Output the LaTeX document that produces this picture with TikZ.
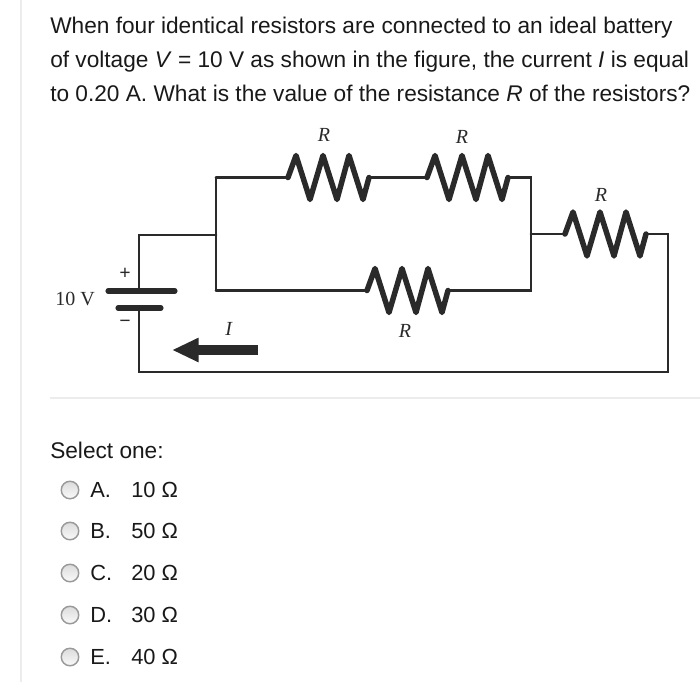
\documentclass[tikz,border=0pt]{standalone}
\usepackage{fontspec}
\setmainfont{Liberation Sans}
\newfontfamily\labelfont{Liberation Serif}
\usetikzlibrary{positioning,calc,arrows.meta,shadings}
\definecolor{ink}{HTML}{2A2A2A}
\definecolor{rule}{HTML}{ECECEC}
\tikzset{
    resistor/.pic={
        \coordinate (-in) at (0,0);
        \coordinate (-out) at (81,0);
        \draw[zig] (-in) -- (8,-22) -- (22,22) -- (35,-22) -- (49,22) -- (61,-22) -- (75,22) -- (-out);
    }
}
\begin{document}
\begin{tikzpicture}[
    x=0.75pt, y=-0.75pt,
    wire/.style={draw=ink, line width=2.1pt, line cap=round, line join=miter},
    zig/.style={draw=ink, line width=4.1pt, line join=round, line cap=round},
    plate/.style={draw=ink, line width=3.8pt, line cap=round},
    qtext/.style={anchor=base west, inner sep=0pt, font=\fontsize{17}{19}\selectfont, text=black!90},
    circuitlabel/.style={inner sep=0pt, font=\labelfont\fontsize{15}{17}\selectfont, text=ink},
    radio/.style={circle, draw=black!40, line width=1.1pt, minimum size=17.5*0.75pt, inner sep=0pt, top color=black!14, bottom color=black!2},
    choice/.style={qtext, font=\fontsize{16.4}{19}\selectfont},
    hairline/.style={draw=rule, line width=1.1pt}
]
\useasboundingbox (0,0) rectangle (700,682);
% Question text
\node[qtext] (line1) at (50,33) {When four identical resistors are connected to an ideal battery};
\node[qtext] (line2) at (50,67) {of voltage \textit{V} = 10 V as shown in the figure, the current \textit{I} is equal};
\node[qtext] (line3) at (50,101) {to 0.20 A. What is the value of the resistance \textit{R} of the resistors?};
% Junctions and resistors
\coordinate (topleft) at (216,177.5);
\coordinate (midleft) at (216,235);
\coordinate (botleft) at (216,290.5);
\coordinate (topright) at (531,177.5);
\coordinate (midright) at (531,234);
\coordinate (botright) at (531,290.5);
\coordinate (corner) at (668,372);
\coordinate (batcorner) at (139,372);
\pic (r1) at (288,177.5) {resistor};
\pic (r2) at (427,177.5) {resistor};
\pic (r3) at (367,290.5) {resistor};
\pic (r4) at (565,234) {resistor};
% Battery
\coordinate (plus) at (139,291);
\coordinate (minus) at (139,308);
\draw[plate] (108,291) -- (175,291);
\draw[plate] (118,308) -- (161,308);
% Wires
\draw[wire] (plus) |- (midleft);
\draw[wire] (topleft) -- (botleft);
\draw[wire] (topleft) -- (r1-in);
\draw[wire] (r1-out) -- (r2-in);
\draw[wire] (r2-out) -- (topright) -- (botright) -- (r3-out);
\draw[wire] (botleft) -- (r3-in);
\draw[wire] (midright) -- (r4-in);
\draw[wire] (r4-out) -| (corner) -- (batcorner) -- (minus);
% Current arrow
\coordinate (arrowtail) at (258,350);
\coordinate (arrowtip) at (172,350);
\draw[ink, line width=7.5pt, -{Triangle[length=20pt,width=17pt]}] (arrowtail) -- (arrowtip);
% Circuit labels
\node[circuitlabel] (rlabel1) at (324,135) {\textit{R}};
\node[circuitlabel] (rlabel2) at (462,137) {\textit{R}};
\node[circuitlabel] (rlabel3) at (405,331) {\textit{R}};
\node[circuitlabel] (rlabel4) at (601,195) {\textit{R}};
\node[circuitlabel] (ilabel) at (229,329) {\textit{I}};
\node[circuitlabel] (vlabel) at (75,299) {10 V};
\node[circuitlabel] (pluslabel) at (125,274) {\textbf{+}};
\node[circuitlabel] (minuslabel) at (125,324) {\textbf{\textminus}};
% Rules
\coordinate (sepa) at (50,398);
\coordinate (sepb) at (700,398);
\coordinate (marga) at (21,0);
\coordinate (margb) at (21,682);
\draw[hairline] (sepa) -- (sepb);
\draw[hairline] (marga) -- (margb);
% Answers
\node[qtext] (select) at (50,458) {Select one:};
\foreach \lab/\val/\y in {A/10/490,B/50/531,C/20/573,D/30/615,E/40/657}{
    \node[radio] (radio\lab) at (70,\y) {};
    \node[choice] (choice\lab) at (90,\y+7) {\lab.};
    \node[choice] (value\lab) at (131,\y+7) {\val\ Ω};
}
\end{tikzpicture}
\end{document}
